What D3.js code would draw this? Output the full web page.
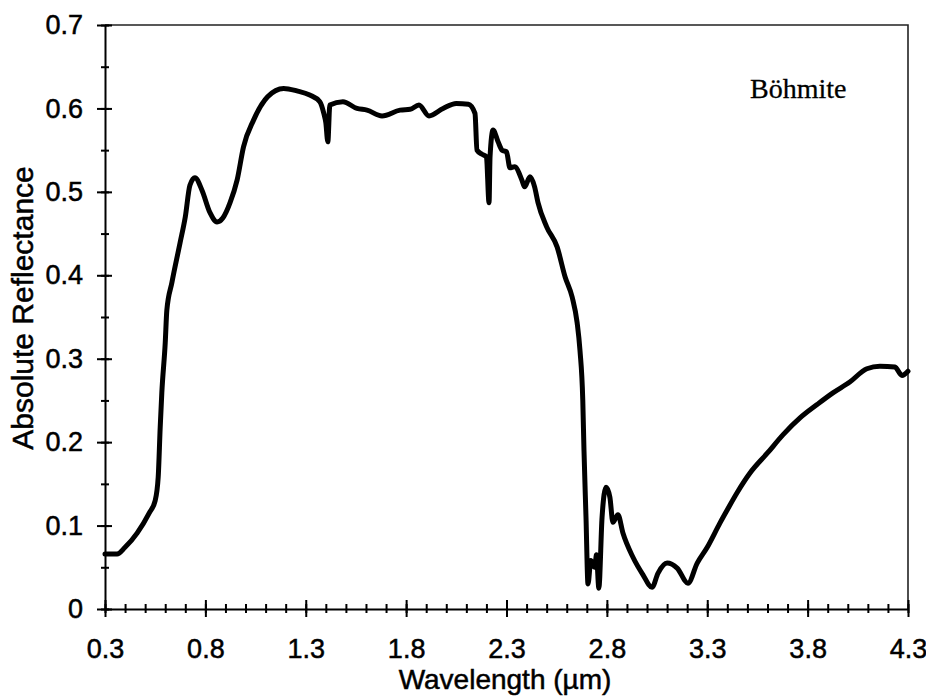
<!DOCTYPE html>
<html>
<head>
<meta charset="utf-8">
<script src="https://cdn.jsdelivr.net/npm/d3@7/dist/d3.min.js"></script>
<style>
  body { margin: 0; background: #fff; }
  svg text { font-family: "Liberation Sans", Arial, sans-serif; fill: #000; stroke: #000; stroke-width: 0.5px; }
  .axis path, .axis line { stroke: #000; stroke-width: 2px; }
  .axis text { font-size: 27px; }
  .xlabel { font-size: 28px; }
  .ylabel { font-size: 30px; }
  .mineral { font-family: "Liberation Serif", "Times New Roman", serif !important; font-size: 28px; stroke-width: 0.3px; }
</style>
</head>
<body>
<div id="chart"></div>
<script>
// wavelength (µm) and absolute reflectance
var wavelength = [0.30, 0.36, 0.40, 0.46, 0.52, 0.55, 0.565, 0.575, 0.583, 0.60, 0.608, 0.633, 0.674, 0.70,
  0.723, 0.748, 0.783, 0.823, 0.858, 0.888, 0.923, 0.958, 0.99, 1.04, 1.11, 1.19, 1.256, 1.32, 1.37, 1.39,
  1.40, 1.41, 1.42, 1.485, 1.555, 1.605, 1.68, 1.77, 1.82, 1.864, 1.914, 1.984, 2.05, 2.11, 2.143, 2.153,
  2.178, 2.20, 2.213, 2.218, 2.233, 2.258, 2.278, 2.30, 2.317, 2.34, 2.377, 2.39, 2.417, 2.44, 2.457, 2.50,
  2.552, 2.592, 2.627, 2.652, 2.666, 2.68, 2.686, 2.696, 2.706, 2.72, 2.74, 2.748, 2.76, 2.776, 2.796,
  2.815, 2.83, 2.855, 2.88, 2.93, 2.98, 3.025, 3.055, 3.10, 3.15, 3.204, 3.25, 3.30, 3.363, 3.40, 3.45,
  3.513, 3.60, 3.678, 3.762, 3.847, 3.926, 4.01, 4.095, 4.16, 4.235, 4.27, 4.30];
var reflectance = [0.066, 0.066, 0.074, 0.091, 0.115, 0.13, 0.158, 0.218, 0.259, 0.319, 0.358, 0.391, 0.439, 0.47,
  0.508, 0.517, 0.502, 0.475, 0.464, 0.469, 0.487, 0.514, 0.554, 0.586, 0.614, 0.624, 0.621, 0.616, 0.608, 0.594,
  0.583, 0.56, 0.604, 0.608, 0.60, 0.598, 0.591, 0.598, 0.599, 0.604, 0.591, 0.600, 0.606, 0.605, 0.594, 0.55,
  0.545, 0.542, 0.487, 0.542, 0.574, 0.56, 0.55, 0.548, 0.529, 0.53, 0.514, 0.506, 0.518, 0.506, 0.487, 0.458,
  0.434, 0.398, 0.374, 0.343, 0.310, 0.25, 0.19, 0.11, 0.030, 0.058, 0.05, 0.065, 0.025, 0.11, 0.146,
  0.134, 0.104, 0.113, 0.091, 0.062, 0.041, 0.026, 0.043, 0.055, 0.049, 0.031, 0.055, 0.074, 0.103, 0.119, 0.14,
  0.163, 0.187, 0.209, 0.229, 0.245, 0.259, 0.272, 0.288, 0.291, 0.29, 0.28, 0.285];

var xMajor = [0.3, 0.8, 1.3, 1.8, 2.3, 2.8, 3.3, 3.8, 4.3];
var yMajor = [0, 0.1, 0.2, 0.3, 0.4, 0.5, 0.6, 0.7];

var width = 926, height = 696;
var margin = { top: 25, right: 18, bottom: 87, left: 105 };

var svg = d3.select("#chart").append("svg")
    .attr("width", width)
    .attr("height", height);

var x = d3.scaleLinear().domain([0.3, 4.3]).range([margin.left, width - margin.right]);
var y = d3.scaleLinear().domain([0, 0.7]).range([height - margin.bottom, margin.top]);

var xMinor = d3.range(0, 41).map(function (i) { return +(0.3 + i * 0.1).toFixed(2); });
var yMinor = d3.range(0, 15).map(function (i) { return +(i * 0.05).toFixed(2); });

// frame (top + right)
svg.append("path")
    .attr("d", "M" + x(0.3) + "," + y(0.7) + "H" + x(4.3) + "V" + y(0))
    .attr("fill", "none")
    .attr("stroke", "#222")
    .attr("stroke-width", 1.6);

// x axis: minor then major ticks crossing the line
var gxMinor = svg.append("g").attr("class", "axis")
    .attr("transform", "translate(0," + y(0) + ")")
    .call(d3.axisBottom(x).tickValues(xMinor).tickSize(4).tickSizeOuter(0).tickFormat(""));
gxMinor.selectAll(".tick line").attr("y1", -5);

var gx = svg.append("g").attr("class", "axis")
    .attr("transform", "translate(0," + y(0) + ")")
    .call(d3.axisBottom(x).tickValues(xMajor).tickSize(8).tickSizeOuter(0).tickPadding(22)
        .tickFormat(d3.format(".1f")));
gx.selectAll(".tick line").attr("y1", -9);
gx.select(".domain").remove();

var gyMinor = svg.append("g").attr("class", "axis")
    .attr("transform", "translate(" + x(0.3) + ",0)")
    .call(d3.axisLeft(y).tickValues(yMinor).tickSize(4).tickSizeOuter(0).tickFormat(""));
gyMinor.selectAll(".tick line").attr("x1", 4);

var gy = svg.append("g").attr("class", "axis")
    .attr("transform", "translate(" + x(0.3) + ",0)")
    .call(d3.axisLeft(y).tickValues(yMajor).tickSize(8).tickSizeOuter(0).tickPadding(14)
        .tickFormat(function (d) { return d === 0 ? "0" : d3.format(".1f")(d); }));
gy.selectAll(".tick line").attr("x1", 7);
gy.select(".domain").remove();

// spectrum
var points = wavelength.map(function (w, i) { return [w, reflectance[i]]; });
svg.append("path")
    .datum(points)
    .attr("fill", "none")
    .attr("stroke", "#000")
    .attr("stroke-width", 5)
    .attr("stroke-linejoin", "round")
    .attr("stroke-linecap", "round")
    .attr("d", d3.line()
        .curve(d3.curveMonotoneX)
        .x(function (d) { return x(d[0]); })
        .y(function (d) { return y(d[1]); }));

// labels
svg.append("text")
    .attr("class", "xlabel")
    .attr("x", 505)
    .attr("y", 689)
    .attr("text-anchor", "middle")
    .text("Wavelength (µm)");

svg.append("text")
    .attr("class", "ylabel")
    .attr("transform", "translate(33," + 308 + ") rotate(-90)")
    .attr("text-anchor", "middle")
    .text("Absolute Reflectance");

svg.append("text")
    .attr("class", "mineral")
    .attr("x", 750)
    .attr("y", 98)
    .text("Böhmite");
</script>
</body>
</html>
